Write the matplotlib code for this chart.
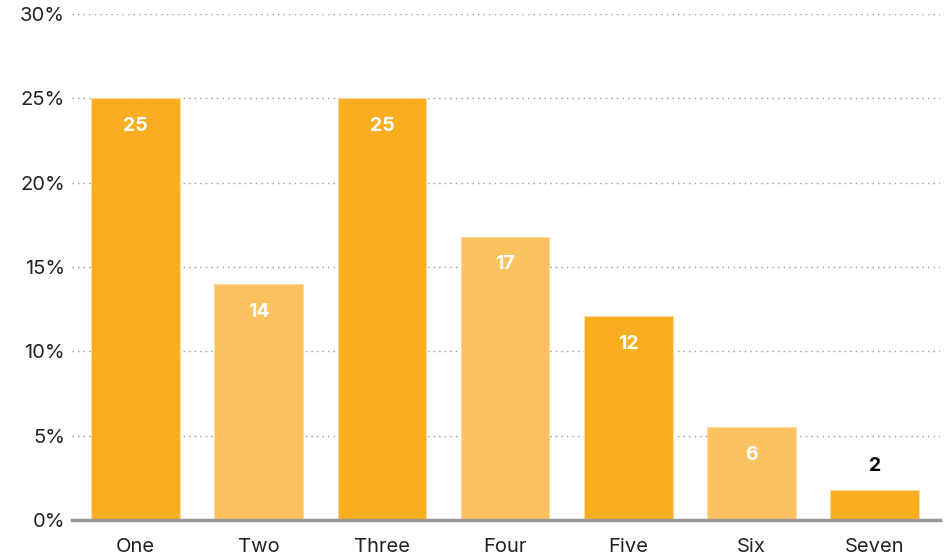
import matplotlib
matplotlib.use('Agg')
import matplotlib.pyplot as plt
import numpy as np

# values (percent)
categories = ['One', 'Two', 'Three', 'Four', 'Five', 'Six', 'Seven']
values = [25.0, 14.0, 25.0, 16.8, 12.1, 5.5, 1.8]
y_ticks = [0, 5, 10, 15, 20, 25, 30]
y_tick_labels = ['0%', '5%', '10%', '15%', '20%', '25%', '30%']

dark = '#F8AE1F'
light = '#FBC25F'
colors = [dark if i % 2 == 0 else light for i in range(len(values))]

plt.rcParams['font.family'] = ['Inter', 'DejaVu Sans']

fig = plt.figure(figsize=(9.44, 5.6), dpi=100)
ax = fig.add_axes([0.0763, 0.0714, 0.9195, 0.9036])

x = np.arange(len(categories))
bars = ax.bar(x, values, width=0.72, color=colors, edgecolor='#FDD9A0',
              linewidth=0.8, zorder=3)

ax.set_xlim(-0.515, 6.53)
ax.set_ylim(0, 30)
ax.set_yticks(y_ticks)
ax.set_yticklabels(y_tick_labels, fontsize=14.5, color='#222222')
ax.set_xticks(x)
ax.set_xticklabels(categories, fontsize=14.5, color='#222222')
ax.tick_params(axis='both', length=0, pad=5)
ax.tick_params(axis='x', pad=13)

ax.yaxis.grid(True, linestyle=(0, (1, 3)), color='#999999', linewidth=1.0, zorder=0)
ax.set_axisbelow(True)
for side in ['top', 'right', 'left']:
    ax.spines[side].set_visible(False)
ax.spines['bottom'].set_color('#999999')
ax.spines['bottom'].set_linewidth(2.5)
ax.spines['bottom'].set_zorder(4)

# value labels: inside the bar in white, above it in black when the bar is short
for xi, v in zip(x, values):
    txt = '%d' % round(v)
    if v > 3:
        ax.annotate(txt, (xi, v), xytext=(0, -20), textcoords='offset points',
                    ha='center', va='center', color='white', fontsize=14,
                    fontweight='bold', zorder=5)
    else:
        ax.annotate(txt, (xi, v), xytext=(0, 17), textcoords='offset points',
                    ha='center', va='center', color='black', fontsize=14,
                    fontweight='bold', zorder=5)

fig.savefig('out.png', dpi=100)
